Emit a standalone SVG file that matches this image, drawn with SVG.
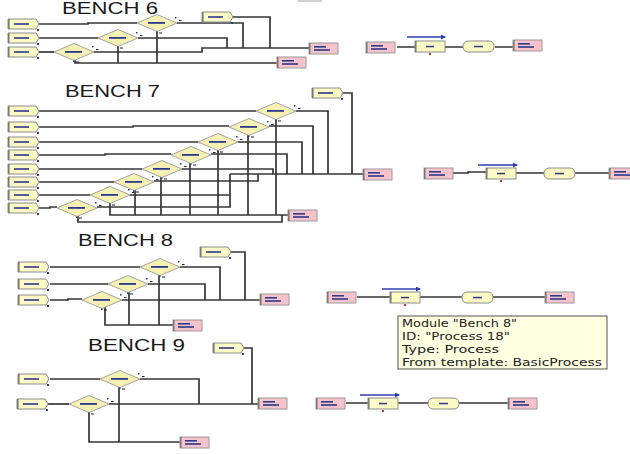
<svg xmlns="http://www.w3.org/2000/svg" width="630" height="454" viewBox="0 0 630 454">
<style>
.t{font-family:"Liberation Sans",Arial,sans-serif;font-size:16px;fill:#1a1a1a}
.tip{font-family:"DejaVu Sans","Liberation Sans",sans-serif;font-size:10px;fill:#222}
.ln{fill:none;stroke:#363636;stroke-width:1.7}
.bl{fill:none;stroke:#2b3fb0;stroke-width:1.3}
</style>
<defs>
<marker id="ah" markerWidth="5" markerHeight="5" refX="4" refY="2.5" orient="auto" markerUnits="userSpaceOnUse"><path d="M0,0L5,2.5L0,5Z" fill="#2b3fb0"/></marker>
<g id="create">
<path d="M0,0H28L31,5L28,10H0Z" fill="#fcf9c4" stroke="#8c8c8c"/>
<path d="M0.8,0V10" stroke="#7a7a7a" stroke-width="1.6"/>
<rect x="6" y="4.2" width="15" height="1.6" fill="#2b3a8c"/>
<rect x="29" y="10" width="2" height="2" fill="#2b3a8c"/>
</g>
<g id="decide">
<path d="M-20,0L0,-8.5L20,0L0,8.5Z" fill="#f6f0b2" stroke="#a3a3a3"/>
<rect x="-9" y="-1" width="17" height="1.8" fill="#2b3a8c"/>
<rect x="18" y="-6" width="1.5" height="1.5" fill="#2b3a8c"/>
<rect x="22" y="-3" width="2.5" height="1" fill="#222"/>
<rect x="-1" y="8.5" width="1.5" height="1.5" fill="#2b3a8c"/>
<rect x="2" y="9.5" width="3" height="1" fill="#222"/>
</g>
<g id="pink">
<rect x="0" y="0" width="29" height="11" fill="#f6c3ca" stroke="#9a9a9a"/>
<path d="M0.8,0V11" stroke="#777" stroke-width="1.5"/>
<rect x="5" y="3" width="12" height="1.6" fill="#2b3a8c"/>
<rect x="5" y="6.2" width="16" height="1.6" fill="#2b3a8c"/>
</g>
<g id="proc">
<rect x="0" y="0" width="30" height="11" fill="#fcf9c4" stroke="#8c8c8c"/>
<path d="M0.8,0V11" stroke="#7a7a7a" stroke-width="1.5"/>
<rect x="11" y="4.8" width="8" height="1.5" fill="#2b3a8c"/>
<rect x="14" y="12" width="2" height="2" fill="#d23030"/>
</g>
<g id="round">
<rect x="0" y="0" width="31" height="11" rx="5" fill="#fcf9c4" stroke="#8c8c8c"/>
<rect x="11" y="4.8" width="9" height="1.5" fill="#2b3a8c"/>
</g>
</defs>
<rect width="630" height="454" fill="#ffffff"/>

<g id="titles">
<text class="t" x="62" y="14" textLength="96" lengthAdjust="spacingAndGlyphs">BENCH 6</text>
<text class="t" x="65" y="97" textLength="95" lengthAdjust="spacingAndGlyphs">BENCH 7</text>
<text class="t" x="78" y="246" textLength="95" lengthAdjust="spacingAndGlyphs">BENCH 8</text>
<text class="t" x="88" y="351" textLength="97" lengthAdjust="spacingAndGlyphs">BENCH 9</text>
</g>

<g id="connectors">
<!-- Bench 6 -->
<path class="ln" d="M39,24H88V23H137"/>
<path class="ln" d="M39,38H98"/>
<path class="ln" d="M39,52H54"/>
<path class="ln" d="M94,52H202V48H309"/>
<path class="ln" d="M138,38H227V48"/>
<path class="ln" d="M177,23H243V48"/>
<path class="ln" d="M232,17H270V48"/>
<path class="ln" d="M157,31V63"/>
<path class="ln" d="M118,46V63"/>
<path class="ln" d="M75,60V63H277"/>
<path class="ln" d="M397,47H415M445,47H463M495,47H513"/>
<path class="bl" d="M407,37H445" marker-end="url(#ah)"/>
<!-- Bench 7 -->
<path class="ln" d="M39,111H256"/>
<path class="ln" d="M39,127H133V126H229"/>
<path class="ln" d="M39,142H198"/>
<path class="ln" d="M39,155H105V154H171"/>
<path class="ln" d="M39,169H142"/>
<path class="ln" d="M39,182H114"/>
<path class="ln" d="M39,195H90"/>
<path class="ln" d="M39,208H50V207H57"/>
<path class="ln" d="M296,111H328V174"/>
<path class="ln" d="M269,126H313V174"/>
<path class="ln" d="M238,142H302V174"/>
<path class="ln" d="M211,154H287V174"/>
<path class="ln" d="M182,169H273V174"/>
<path class="ln" d="M154,181H258V174"/>
<path class="ln" d="M130,195H230"/>
<path class="ln" d="M97,207H230V174"/>
<path class="ln" d="M230,174H363"/>
<path class="ln" d="M343,93H352V174"/>
<path class="ln" d="M276,119V215"/>
<path class="ln" d="M248,135V215"/>
<path class="ln" d="M218,150V215"/>
<path class="ln" d="M190,163V215"/>
<path class="ln" d="M161,177V215"/>
<path class="ln" d="M135,190V215"/>
<path class="ln" d="M110,203V215H288"/>
<path class="ln" d="M78,216V222H282V215"/>
<path class="ln" d="M453,173H468V172H486M516,173H544M574,173H609"/>
<path class="bl" d="M478,165H517" marker-end="url(#ah)"/>
<!-- Bench 8 -->
<path class="ln" d="M50,267H140"/>
<path class="ln" d="M50,284H108"/>
<path class="ln" d="M50,300H68V299H82"/>
<path class="ln" d="M122,300H260"/>
<path class="ln" d="M180,267H220V300"/>
<path class="ln" d="M148,284H205V300"/>
<path class="ln" d="M230,252H245V300"/>
<path class="ln" d="M159,275V325"/>
<path class="ln" d="M129,292V325"/>
<path class="ln" d="M105,307V325H173"/>
<path class="ln" d="M357,297H390M418,297H462M493,297H545"/>
<path class="bl" d="M382,289H420" marker-end="url(#ah)"/>
<!-- Bench 9 -->
<path class="ln" d="M50,379H100"/>
<path class="ln" d="M48,404H69"/>
<path class="ln" d="M109,404H258"/>
<path class="ln" d="M140,379H199V404"/>
<path class="ln" d="M243,348H252V404"/>
<path class="ln" d="M119,387V442"/>
<path class="ln" d="M89,412V442H180"/>
<path class="ln" d="M346,403H368M398,403H428M459,403H508"/>
<path class="bl" d="M360,395H399" marker-end="url(#ah)"/>
</g>

<!-- Bench 6 nodes -->
<g id="b6-create1"><use href="#create" x="8" y="19"/></g>
<g id="b6-create2"><use href="#create" x="8" y="33"/></g>
<g id="b6-create3"><use href="#create" x="8" y="47"/></g>
<g id="b6-create4"><use href="#create" x="202" y="12"/></g>
<g id="b6-decide1"><use href="#decide" x="157" y="23"/></g>
<g id="b6-decide2"><use href="#decide" x="118" y="38"/></g>
<g id="b6-decide3"><use href="#decide" x="74" y="52"/></g>
<g id="b6-assign"><use href="#pink" x="309" y="43"/></g>
<g id="b6-dispose"><use href="#pink" x="277" y="57"/></g>
<g id="b6-in"><use href="#pink" x="366" y="42"/></g>
<g id="b6-process"><use href="#proc" x="415" y="41"/></g>
<g id="b6-delay"><use href="#round" x="463" y="41"/></g>
<g id="b6-out"><use href="#pink" x="513" y="40"/></g>
<g id="top-mark"><rect x="298" y="0" width="24" height="2" fill="#d0d0d0"/></g>

<!-- Bench 7 nodes -->
<g id="b7-create1"><use href="#create" x="8" y="106"/></g>
<g id="b7-create2"><use href="#create" x="8" y="122"/></g>
<g id="b7-create3"><use href="#create" x="8" y="137"/></g>
<g id="b7-create4"><use href="#create" x="8" y="150"/></g>
<g id="b7-create5"><use href="#create" x="8" y="164"/></g>
<g id="b7-create6"><use href="#create" x="8" y="177"/></g>
<g id="b7-create7"><use href="#create" x="8" y="190"/></g>
<g id="b7-create8"><use href="#create" x="8" y="203"/></g>
<g id="b7-create9"><use href="#create" x="312" y="88"/></g>
<g id="b7-decide1"><use href="#decide" x="276" y="111"/></g>
<g id="b7-decide2"><use href="#decide" x="249" y="127"/></g>
<g id="b7-decide3"><use href="#decide" x="218" y="142"/></g>
<g id="b7-decide4"><use href="#decide" x="191" y="155"/></g>
<g id="b7-decide5"><use href="#decide" x="162" y="169"/></g>
<g id="b7-decide6"><use href="#decide" x="134" y="182"/></g>
<g id="b7-decide7"><use href="#decide" x="110" y="195"/></g>
<g id="b7-decide8"><use href="#decide" x="77" y="208"/></g>
<g id="b7-assign"><use href="#pink" x="363" y="169"/></g>
<g id="b7-dispose"><use href="#pink" x="288" y="210"/></g>
<g id="b7-in"><use href="#pink" x="424" y="168"/></g>
<g id="b7-process"><use href="#proc" x="486" y="168"/></g>
<g id="b7-delay"><use href="#round" x="544" y="168"/></g>
<g id="b7-out"><use href="#pink" x="609" y="168"/></g>

<!-- Bench 8 nodes -->
<g id="b8-create1"><use href="#create" x="18" y="262"/></g>
<g id="b8-create2"><use href="#create" x="18" y="279"/></g>
<g id="b8-create3"><use href="#create" x="18" y="295"/></g>
<g id="b8-create4"><use href="#create" x="200" y="247"/></g>
<g id="b8-decide1"><use href="#decide" x="160" y="267"/></g>
<g id="b8-decide2"><use href="#decide" x="128" y="284"/></g>
<g id="b8-decide3"><use href="#decide" x="102" y="300"/></g>
<g id="b8-assign"><use href="#pink" x="260" y="294"/></g>
<g id="b8-dispose"><use href="#pink" x="173" y="320"/></g>
<g id="b8-in"><use href="#pink" x="327" y="292"/></g>
<g id="b8-process"><use href="#proc" x="390" y="292"/></g>
<g id="b8-delay"><use href="#round" x="462" y="292"/></g>
<g id="b8-out"><use href="#pink" x="545" y="292"/></g>

<!-- Bench 9 nodes -->
<g id="b9-create1"><use href="#create" x="18" y="374"/></g>
<g id="b9-create2"><use href="#create" x="17" y="399"/></g>
<g id="b9-create3"><use href="#create" x="213" y="343"/></g>
<g id="b9-decide1"><use href="#decide" x="120" y="379"/></g>
<g id="b9-decide2"><use href="#decide" x="89" y="404"/></g>
<g id="b9-assign"><use href="#pink" x="258" y="398"/></g>
<g id="b9-dispose"><use href="#pink" x="180" y="437"/></g>
<g id="b9-in"><use href="#pink" x="316" y="398"/></g>
<g id="b9-process"><use href="#proc" x="368" y="398"/></g>
<g id="b9-delay"><use href="#round" x="428" y="398"/></g>
<g id="b9-out"><use href="#pink" x="508" y="398"/></g>

<!-- Tooltip -->
<g id="tooltip">
<rect x="398" y="316" width="209" height="53" fill="#ffffe1" stroke="#555" stroke-width="1"/>
<text class="tip" x="402" y="327" textLength="115" lengthAdjust="spacingAndGlyphs">Module "Bench 8"</text>
<text class="tip" x="402" y="340" textLength="108" lengthAdjust="spacingAndGlyphs">ID: "Process 18"</text>
<text class="tip" x="402" y="353" textLength="97" lengthAdjust="spacingAndGlyphs">Type: Process</text>
<text class="tip" x="402" y="366" textLength="200" lengthAdjust="spacingAndGlyphs">From template: BasicProcess</text>
</g>
</svg>
